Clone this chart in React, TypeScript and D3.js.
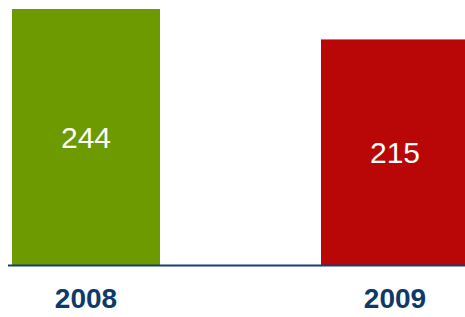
import React from "react";
import * as d3 from "d3";

const categories = ["2008", "2009"];
const values = [244, 215];
const colors = ["#6C9A00", "#B90707"];

export default function App() {
  const W = 465, H = 317;
  const base = 265;
  const x = d3.scaleBand<string>().domain(categories).range([12, 469]).paddingInner(0.521).paddingOuter(0);
  const y = d3.scaleLinear().domain([0, 244]).range([base, 9]);
  return (
    <svg width={W} height={H} style={{ position: "absolute", left: 0, top: 0 }} fontFamily="Liberation Sans, Arial, sans-serif">
      {categories.map((c, i) => {
        const x0 = x(c)!;
        const bw = x.bandwidth();
        const top = y(values[i]);
        return (
          <g key={c}>
            <rect x={x0} y={top} width={bw} height={base - top} fill={colors[i]} />
            <text x={x0 + bw / 2} y={(top + base) / 2} textAnchor="middle" dominantBaseline="central" fontSize={30} fill="#fff">
              {values[i]}
            </text>
            <text x={x0 + bw / 2} y={308} textAnchor="middle" fontSize={28} fontWeight="bold" fill="#0E3A6B">
              {c}
            </text>
          </g>
        );
      })}
      <line x1={8} x2={W} y1={base + 0.5} y2={base + 0.5} stroke="#173E70" strokeWidth={2} />
    </svg>
  );
}
